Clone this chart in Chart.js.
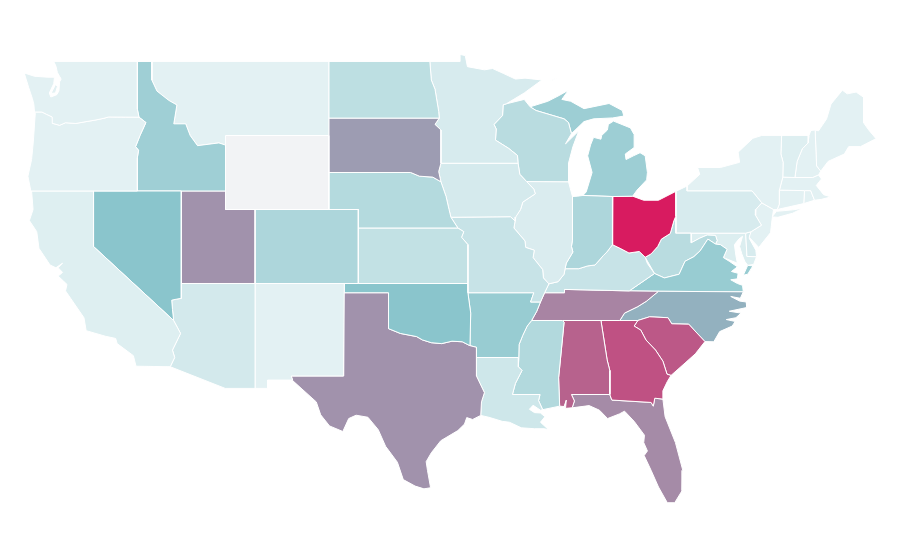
<!DOCTYPE html>
<html>
<head>
<meta charset="utf-8">
<title>US states</title>
<script src="https://cdn.jsdelivr.net/npm/chart.js@4"></script>
<style>
  html, body { margin: 0; padding: 0; background: #fff; }
  canvas { display: block; }
</style>
</head>
<body>
<canvas id="mapChart" width="900" height="560"></canvas>
<script>
// Shared borders as [lon, lat], walked north to south or west to east
const mnWi = [[-92.02,46.71],[-92.23,46.66],[-92.27,46.08],[-92.85,45.6],[-92.7,45.35],[-92.75,44.75],[-91.85,44.3],[-91.26,43.92],[-91.22,43.5]];
const iaWi = [[-91.22,43.5],[-91.1,42.9],[-90.64,42.51]];
const iaIl = [[-90.64,42.51],[-90.15,42.1],[-90.05,41.85],[-90.9,41.4],[-91.05,41.0],[-91.37,40.6],[-91.42,40.38]];
const moIl = [[-91.42,40.38],[-91.5,40.0],[-90.75,39.3],[-90.7,38.95],[-90.12,38.8],[-90.2,38.4],[-89.55,37.75],[-89.5,37.3],[-89.13,36.98]];
const tnAr = [[-89.7,36.0],[-89.95,35.5],[-90.3,35.0]];
const msAr = [[-90.3,35.0],[-90.6,34.7],[-90.9,34.2],[-91.15,33.7],[-91.17,33.0]];
const msLa = [[-91.17,33.0],[-91.2,32.5],[-90.95,32.3],[-91.4,31.6],[-91.6,31.0],[-89.73,31.0],[-89.83,30.67],[-89.55,30.18]];
const ilKy = [[-89.13,36.98],[-88.5,37.1],[-88.1,37.5],[-88.03,37.8]];
const inKy = [[-88.03,37.8],[-87.1,37.8],[-86.5,37.95],[-86.0,38.0],[-85.45,38.5],[-85.2,38.7],[-84.82,39.1]];
const ohKy = [[-84.82,39.1],[-84.3,38.9],[-83.7,38.65],[-83.0,38.73],[-82.6,38.42]];
const ohWv = [[-82.6,38.42],[-82.2,38.6],[-81.75,39.0],[-81.5,39.4],[-80.9,39.7],[-80.65,40.4],[-80.52,40.64]];
const wabash = [[-87.53,39.35],[-87.6,39.0],[-87.5,38.7],[-87.95,38.1],[-88.03,37.8]];
const snake = [[-116.92,45.99],[-116.45,45.7],[-116.85,45.0],[-117.15,44.4],[-116.95,44.2],[-117.03,43.8],[-117.03,42.0]];
const idMt = [[-116.05,49.0],[-116.05,48.0],[-115.7,47.4],[-114.9,46.9],[-114.35,46.65],[-114.56,45.63],[-113.75,45.63],[-113.45,45.0],[-112.95,44.45],[-111.5,44.6],[-111.05,44.48]];
const wa_or = [[-116.92,45.99],[-118.98,46.0],[-119.3,45.93],[-119.9,45.83],[-120.65,45.73],[-121.2,45.65],[-121.9,45.69],[-122.3,45.55],[-122.75,45.65],[-122.8,46.0],[-123.2,46.15],[-123.5,46.27],[-124.0,46.27]];
const redRiver = [[-100.0,34.56],[-99.2,34.3],[-98.1,34.13],[-97.7,33.95],[-97.1,33.8],[-96.4,33.75],[-95.7,33.88],[-95.0,33.85],[-94.48,33.64]];
const sabine = [[-94.04,33.0],[-94.04,32.0],[-93.5,31.1],[-93.7,30.6],[-93.75,29.87]];
const nvAz = [[-114.05,37.0],[-114.05,36.2],[-114.4,36.15],[-114.7,36.1],[-114.65,35.6],[-114.57,35.0]];
const caAz = [[-114.57,35.0],[-114.1,34.3],[-114.65,33.4],[-114.5,33.0],[-114.8,32.5]];
const mnSd = [[-96.56,45.94],[-96.85,45.6],[-96.45,45.3],[-96.45,43.5]];
const neIa = [[-96.45,42.5],[-96.1,41.7],[-95.9,41.0],[-95.77,40.58]];
const sdNe = [[-104.05,43.0],[-98.5,43.0],[-97.9,42.8],[-97.0,42.75],[-96.45,42.5]];
const gaAlFl = [[-85.6,35.0],[-85.18,32.87],[-85.0,32.3],[-85.0,31.0]];
const scGa = [[-83.1,35.0],[-83.35,34.7],[-82.9,34.48],[-82.55,33.95],[-81.9,33.4],[-81.4,32.8],[-81.12,32.1],[-80.85,32.03]];
const ncSc = [[-83.1,35.0],[-82.3,35.2],[-81.05,35.15],[-80.8,34.82],[-79.65,34.8],[-78.55,33.86]];
const tnNc = [[-84.32,35.0],[-84.0,35.4],[-83.1,35.75],[-82.5,36.05],[-81.7,36.58]];
const vaWv = [[-81.97,37.54],[-81.3,37.3],[-80.3,37.5],[-79.9,38.2],[-79.3,38.45],[-78.87,38.77],[-78.35,39.4],[-77.83,39.13]];
const mdWv = [[-77.83,39.13],[-77.72,39.32],[-77.83,39.6],[-78.4,39.62],[-78.9,39.45],[-79.48,39.2],[-79.48,39.72]];
const gaFl = [[-85.0,31.0],[-84.86,30.7],[-82.2,30.57],[-82.05,30.37],[-81.95,30.8],[-81.4,30.75]];
const paNj = [[-74.7,41.36],[-75.1,41.0],[-75.13,40.7],[-74.72,40.15],[-75.42,39.8]];
const nhVt = [[-71.5,45.0],[-71.55,44.6],[-71.95,44.28],[-72.3,43.6],[-72.45,42.73]];

const rev = (b) => b.slice().reverse();

// Values per state, Wyoming has none
const stateNames = ['WA','OR','CA','NV','ID','MT','WY','UT','AZ','CO','NM','ND','SD','NE','KS','OK','TX','MN','IA','MO','AR','LA','WI','IL','IN','MI','OH','KY','TN','MS','AL','GA','FL','SC','NC','VA','WV','PA','NY','VT','NH','ME','MA','CT','RI','NJ','DE','MD','DC'];
const stateValues = [12,12,14,50,41,12,null,65,19,35,12,28,62,32,26,50,65,17,18,24,44,21,30,16,35,42,100,24,69,33,79,84,67,82,56,44,30,17,12,14,12,12,12,12,12,12,17,15,15];

const stateRings = {
  WA: [
    [[-122.7,49],[-117.03,49],[-117.03,46.42],...wa_or,[-124.05,46.7],[-124.15,47.0],[-124.4,47.6],[-124.7,48.38],[-124.0,48.2],[-123.1,48.15],[-122.65,48.15],[-122.7,47.8],[-123.0,47.3],[-122.9,47.08],[-122.5,47.2],[-122.35,47.4],[-122.3,47.9],[-122.2,48.05],[-122.45,48.4],[-122.55,48.75]],
    [[-122.58,47.75],[-122.88,47.28],[-122.58,47.3],[-122.45,47.65]]
  ],
  OR: [[...rev(wa_or),...snake,[-124.25,42.0],[-124.45,42.8],[-124.2,43.7],[-124.08,44.7],[-123.95,46.2]]],
  CA: [[[-124.2,42],[-120,42],[-120,39],...caAz,[-117.12,32.53],[-117.3,33.1],[-118.4,33.75],[-118.5,34.03],[-119.2,34.15],[-120.5,34.45],[-120.65,35.15],[-121.9,36.6],[-121.8,36.95],[-122.4,37.4],[-122.1,37.6],[-122.4,37.85],[-122.1,38.1],[-122.55,37.85],[-122.95,38],[-123.7,38.9],[-123.85,39.8],[-124.35,40.4],[-124.1,41]]],
  NV: [[[-120,42],[-114.05,42],...nvAz,[-120,39]]],
  ID: [[[-117.03,49],...idMt,[-111.05,42],...rev(snake),[-117.03,46.42]]],
  MT: [[...idMt,[-111.05,45],[-104.05,45],[-104.05,49]]],
  WY: [[[-111.05,45],[-104.05,45],[-104.05,41],[-111.05,41]]],
  UT: [[[-114.05,42],[-111.05,42],[-111.05,41],[-109.05,41],[-109.05,37],[-114.05,37]]],
  AZ: [[...nvAz,...caAz,[-111.07,31.33],[-109.05,31.33],[-109.05,37]]],
  CO: [[[-109.05,41],[-102.05,41],[-102.05,37],[-109.05,37]]],
  NM: [[[-109.05,37],[-103,37],[-103.05,32],[-106.6,32],[-106.5,31.78],[-108.2,31.78],[-108.2,31.33],[-109.05,31.33]]],
  ND: [[[-104.05,49],[-97.2,49],[-97.1,48],[-96.85,47.5],[-96.6,46.3],[-96.56,45.94],[-104.05,45.94]]],
  SD: [[[-104.05,45.94],...mnSd,[-96.6,43.05],...rev(sdNe)]],
  NE: [[...sdNe,...neIa,[-95.3,40],[-102.05,40],[-102.05,41],[-104.05,41]]],
  KS: [[[-102.05,40],[-95.3,40],[-94.9,39.8],[-95.05,39.5],[-94.62,39.1],[-94.62,37],[-102.05,37]]],
  OK: [[[-103,37],[-94.62,37],[-94.62,36.5],[-94.43,35.4],[-94.48,33.64],...rev(redRiver),[-100,36.5],[-103,36.5]]],
  TX: [[[-103.04,36.5],[-100,36.5],...redRiver,[-94.04,33.55],...sabine,[-94.3,29.65],[-94.7,29.75],[-94.85,29.4],[-95.3,29.05],[-96.46,28.5],[-97.1,27.85],[-97.45,27.37],[-97.36,26.9],[-97.15,25.96],[-97.6,25.9],[-98.2,26.05],[-99.0,26.4],[-99.4,27.34],[-100.2,28.2],[-100.7,29.1],[-101.4,29.77],[-102.2,29.88],[-102.7,29.7],[-103.1,29.0],[-104,29.3],[-104.6,29.9],[-104.9,30.6],[-106.5,31.75],[-106.6,32],[-103.05,32]]],
  MN: [[[-97.2,49],[-95.15,49],[-95.15,49.38],[-94.8,49.32],[-94.65,48.72],[-93.5,48.55],[-92.95,48.62],[-92.2,48.35],[-91.4,48.05],[-90.75,48.1],[-89.6,48],[-90.8,47.3],...mnWi,[-96.45,43.5],...rev(mnSd),[-96.6,46.3],[-96.85,47.5],[-97.1,48]]],
  IA: [[[-96.45,43.5],[-91.22,43.5],...iaWi,...iaIl,[-91.73,40.61],[-95.77,40.58],...rev(neIa),[-96.6,43.05]]],
  MO: [[[-95.77,40.58],[-91.73,40.61],...moIl,[-89.42,36.5],[-89.7,36],[-90.37,36],[-90.15,36.5],[-94.62,36.5],[-94.62,39.1],[-95.05,39.5],[-94.9,39.8],[-95.3,40]]],
  AR: [[[-94.62,36.5],[-90.15,36.5],[-90.37,36],...tnAr,...msAr,[-94.04,33],[-94.04,33.55],[-94.48,33.64],[-94.43,35.4]]],
  LA: [[...msLa,[-89.7,30.15],[-90.2,30.42],[-90.45,30.2],[-90.1,30.02],[-89.7,30.0],[-89.4,29.8],[-89.7,29.5],[-89.15,29.1],[-89.45,29.15],[-90.1,29.15],[-91.0,29.2],[-91.8,29.5],[-92.3,29.55],[-93.2,29.77],[-93.75,29.87],...rev(sabine)]],
  WI: [[[-92.02,46.71],[-90.8,46.95],[-90.4,46.55],[-90,46.35],[-88.1,45.9],[-87.8,45.7],[-87.6,45.1],[-88,44.55],[-87.1,45.25],[-87.5,44.4],[-87.8,43.5],[-87.8,42.5],...rev(iaWi),...rev(mnWi)]],
  IL: [[[-90.64,42.51],[-87.8,42.5],[-87.53,41.7],...wabash,...rev(ilKy),...rev(moIl),...rev(iaIl)]],
  IN: [[[-87.53,41.7],[-87.2,41.72],[-86.82,41.76],[-84.8,41.7],[-84.82,39.1],...rev(inKy),...rev(wabash)]],
  MI: [
    [[-86.82,41.76],[-84.8,41.7],[-83.45,41.72],[-83.15,42.05],[-82.5,42.6],[-82.45,43],[-82.6,43.9],[-82.95,44.07],[-83.4,43.9],[-83.9,43.7],[-83.95,44.0],[-83.35,44.35],[-83.35,45.05],[-83.6,45.41],[-84.75,45.78],[-85.1,45.6],[-85.16,45.3],[-85.55,45.0],[-85.6,44.8],[-86.1,44.9],[-86.3,44.5],[-86.5,43.9],[-86.2,43],[-86.6,41.95]],
    [[-90.4,46.55],[-89.2,46.85],[-88.44,47.16],[-87.8,47.45],[-88.25,46.95],[-87.65,46.85],[-86.75,46.45],[-85.05,46.73],[-84.15,46.35],[-84.05,46.05],[-84.8,45.95],[-86.1,45.9],[-86.75,45.75],[-87.6,45.1],[-87.8,45.7],[-88.1,45.9],[-90,46.35]],
    [[-89.1,47.9],[-88.5,48.15],[-88.9,48.0]]
  ],
  OH: [[[-84.8,41.7],[-83.45,41.72],[-82.7,41.5],[-81.7,41.5],[-80.52,41.98],[-80.52,40.64],...rev(ohWv),...rev(ohKy)]],
  KY: [[[-89.42,36.5],[-88.07,36.5],[-88.07,36.68],[-83.68,36.6],[-81.97,37.54],[-82.45,38.08],...rev(ohKy),...rev(inKy),...rev(ilKy)]],
  TN: [[[-89.42,36.5],[-88.07,36.5],[-88.07,36.68],[-83.68,36.6],[-81.7,36.58],...rev(tnNc),[-88.2,35],[-90.3,35],...rev(tnAr)]],
  MS: [[...msAr,...msLa.slice(1),[-88.4,30.37],[-88.47,31.9],[-88.1,34.9],[-88.2,35]]],
  AL: [[[-88.2,35],...gaAlFl,[-87.6,31],[-87.4,30.65],[-87.55,30.28],[-88,30.25],[-87.95,30.7],[-88.1,30.35],[-88.4,30.37],[-88.47,31.9],[-88.1,34.9]]],
  GA: [[...gaAlFl,...gaFl,[-81.4,31.2],[-81.1,31.7],[-80.85,32.03],...rev(scGa)]],
  FL: [[[-87.6,31],[-85,31],...gaFl.slice(1),[-81.25,29.8],[-80.55,28.4],[-80.05,26.9],[-80.1,25.8],[-80.6,25.15],[-81.1,25.15],[-81.7,26],[-82.2,26.9],[-82.67,27.7],[-82.45,27.95],[-82.7,28.4],[-82.65,28.8],[-83.35,29.55],[-84,30.1],[-84.35,29.95],[-85.15,29.7],[-85.7,30.15],[-86.4,30.4],[-87.55,30.28],[-87.4,30.65]]],
  SC: [[...ncSc,[-79.2,33.2],[-79.9,32.7],[-80.85,32.03],...rev(scGa)]],
  NC: [[...tnNc,[-75.95,36.55],[-76.15,36.2],[-76.8,36.3],[-76.2,36.05],[-75.75,36.0],[-75.72,35.7],[-76.9,35.5],[-76.1,35.4],[-76.45,35.15],[-77.1,35.05],[-76.5,34.95],[-76.7,34.7],[-77.55,34.4],[-77.95,33.85],[-78.55,33.86],...rev(ncSc)]],
  VA: [
    [[-83.68,36.6],...vaWv,[-77.5,39.1],[-77.05,38.85],[-77.3,38.4],[-76.9,38.2],[-76.35,37.9],[-76.75,37.65],[-76.3,37.55],[-76.35,37.25],[-76.8,37.2],[-76.35,37.0],[-76,36.9],[-75.95,36.55],[-81.7,36.58]],
    [[-75.95,37.45],[-75.65,37.5],[-75.3,37.95],[-75.65,37.98]]
  ],
  WV: [[...ohWv,[-80.52,39.72],...rev(mdWv),...rev(vaWv)]],
  MD: [[[-79.48,39.72],[-75.79,39.72],[-75.7,38.46],[-75.05,38.45],[-75.25,38.03],[-75.65,37.98],[-75.85,38.2],[-76.05,38.6],[-76.2,39.0],[-76,39.55],[-76.25,39.4],[-76.55,39.1],[-76.45,38.5],[-76.35,38.1],[-77.3,38.4],[-77.05,38.85],[-77.5,39.1],...mdWv]],
  DC: [[[-77.12,38.93],[-77.04,39],[-76.91,38.89],[-77.04,38.79]]],
  DE: [[[-75.79,39.72],[-75.42,39.8],[-75.55,39.45],[-75.1,38.8],[-75.05,38.45],[-75.7,38.46]]],
  PA: [[[-80.52,41.98],[-79.76,42.27],[-79.76,42],[-75.35,42],...paNj,[-75.79,39.72],[-80.52,39.72]]],
  NJ: [[[-74.7,41.36],[-73.9,41],[-74,40.45],[-74.1,39.75],[-74.9,38.95],[-75.55,39.5],...rev(paNj)]],
  NY: [
    [[-79.76,42.27],[-78.9,42.9],[-79.05,43.27],[-77.5,43.27],[-76.2,43.55],[-76.3,44.1],[-75.3,44.85],[-74.7,45],[-73.35,45],[-73.4,44],[-73.25,43.55],[-73.27,42.75],[-73.5,42.05],[-73.5,41.3],[-73.65,41],[-73.9,41],[-74.7,41.36],[-75.35,42],[-79.76,42]],
    [[-74,40.6],[-73.7,40.9],[-72.6,40.98],[-71.9,41.07],[-72.6,40.8],[-73.6,40.58]]
  ],
  VT: [[[-73.35,45],...nhVt,[-73.27,42.75],[-73.25,43.55],[-73.4,44]]],
  NH: [[...nhVt,[-71.25,42.73],[-70.85,42.87],[-70.7,43.07],[-70.98,43.35],[-71.08,45.3],[-71.37,45.27]]],
  ME: [[[-71.08,45.3],[-70.85,45.25],[-70.3,45.9],[-70,46.7],[-69.23,47.45],[-68.9,47.25],[-68.3,47.35],[-67.8,47.07],[-67.8,45.7],[-67.45,45.3],[-66.95,44.83],[-68,44.4],[-68.8,44.4],[-69.1,44],[-70.2,43.6],[-70.7,43.07],[-70.98,43.35]]],
  MA: [[[-73.5,42.05],[-73.27,42.75],[-71.25,42.73],[-70.85,42.87],[-70.65,42.65],[-71,42.3],[-70.65,41.95],[-70.5,41.8],[-70,41.68],[-70.65,41.55],[-71.12,41.5],[-71.38,42.02],[-71.8,42.02]]],
  CT: [[[-73.5,42.05],[-71.8,42.02],[-71.85,41.32],[-73.65,41],[-73.5,41.3]]],
  RI: [[[-71.8,42.02],[-71.38,42.02],[-71.12,41.5],[-71.85,41.32]]]
};

const noDataColor = '#f2f3f5';
const rampLow = [255, 255, 255];
const rampMid = [138, 197, 204];
const rampHigh = [216, 27, 96];

function valueColor(v) {
  if (v === null) return noDataColor;
  const from = v <= 50 ? rampLow : rampMid;
  const to = v <= 50 ? rampMid : rampHigh;
  const t = v <= 50 ? v / 50 : (v - 50) / 50;
  const c = from.map((f, i) => Math.round(f + (to[i] - f) * t));
  return `rgb(${c[0]},${c[1]},${c[2]})`;
}

const datasets = [];
stateNames.forEach((name, i) => {
  stateRings[name].forEach(ring => {
    const points = ring.map(p => ({ x: p[0], y: p[1] }));
    points.push(points[0]);
    datasets.push({
      label: name,
      data: points,
      showLine: true,
      fill: 'shape',
      backgroundColor: valueColor(stateValues[i]),
      borderColor: '#ffffff',
      borderWidth: 1,
      pointRadius: 0,
      tension: 0
    });
  });
});

new Chart(document.getElementById('mapChart').getContext('2d'), {
  type: 'scatter',
  data: { datasets: datasets },
  options: {
    responsive: false,
    animation: false,
    devicePixelRatio: 1,
    layout: { padding: 0 },
    plugins: { legend: { display: false }, tooltip: { enabled: false } },
    scales: {
      x: { type: 'linear', display: false, min: -126.342, max: -65.325 },
      y: { type: 'linear', display: false, min: 22.054, max: 52.324 }
    }
  }
});
</script>
</body>
</html>
